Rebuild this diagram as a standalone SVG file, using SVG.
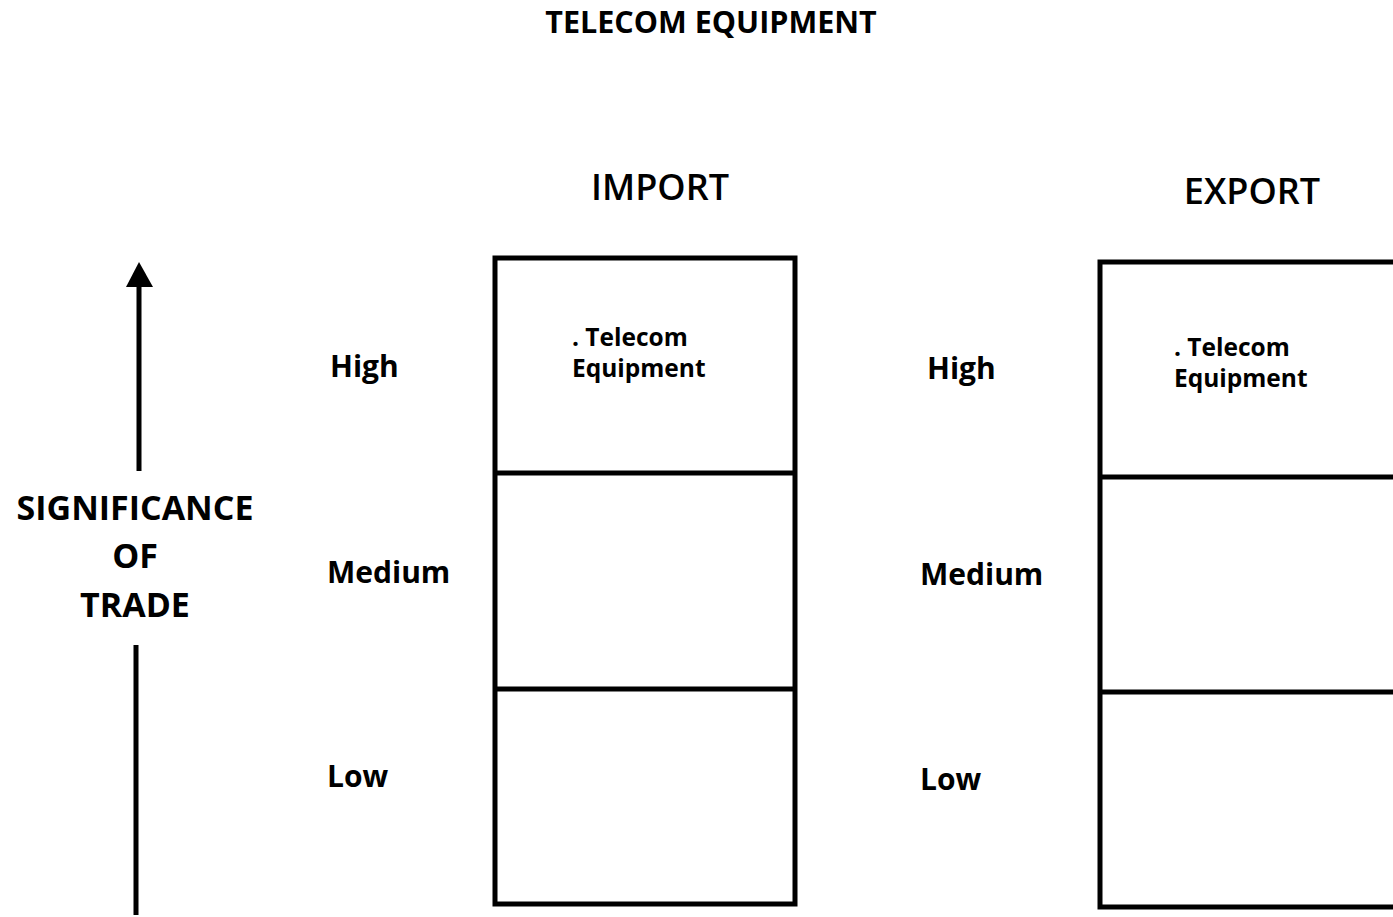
<svg xmlns="http://www.w3.org/2000/svg" width="1393" height="917" viewBox="0 0 1393 917">
<style>
text{font-family:"Open Sans","Liberation Sans",sans-serif;font-weight:700;fill:#000}
.box{fill:none;stroke:#000;stroke-width:5}
.ln{stroke:#000;stroke-width:5;fill:none}
.lbl{font-size:30px}
.cell{font-size:24.5px}
.head{font-size:36px;font-weight:600}
.axis{font-size:34px;text-anchor:middle}
</style>
<rect width="1393" height="917" fill="#fff"/>
<g id="title"><text x="711" y="33" font-size="30.5" text-anchor="middle">TELECOM EQUIPMENT</text></g>
<g id="axis">
<text class="axis" x="135" y="520">SIGNIFICANCE</text>
<text class="axis" x="135" y="568">OF</text>
<text class="axis" x="135" y="617">TRADE</text>
</g>
<g id="connectors">
<line class="ln" x1="139" y1="471" x2="139" y2="284"/>
<polygon points="139,262 126,287 153,287" fill="#000"/>
<line class="ln" x1="136" y1="645" x2="136" y2="915"/>
</g>
<g id="import">
<text class="head" x="660" y="200" text-anchor="middle">IMPORT</text>
<rect class="box" x="495" y="258" width="300" height="646"/>
<line class="ln" x1="495" y1="473" x2="795" y2="473"/>
<line class="ln" x1="495" y1="689" x2="795" y2="689"/>
<text class="cell" x="572" y="346">. Telecom</text>
<text class="cell" x="572" y="377">Equipment</text>
<text class="lbl" x="330" y="377">High</text>
<text class="lbl" x="327" y="583">Medium</text>
<text class="lbl" x="327" y="787">Low</text>
</g>
<g id="export">
<text class="head" x="1252" y="204" text-anchor="middle">EXPORT</text>
<path class="ln" d="M1396,262 H1100 V907 H1396"/>
<line class="ln" x1="1100" y1="477" x2="1396" y2="477"/>
<line class="ln" x1="1100" y1="692" x2="1396" y2="692"/>
<text class="cell" x="1174" y="356">. Telecom</text>
<text class="cell" x="1174" y="387">Equipment</text>
<text class="lbl" x="927" y="379">High</text>
<text class="lbl" x="920" y="585">Medium</text>
<text class="lbl" x="920" y="790">Low</text>
</g>
</svg>
